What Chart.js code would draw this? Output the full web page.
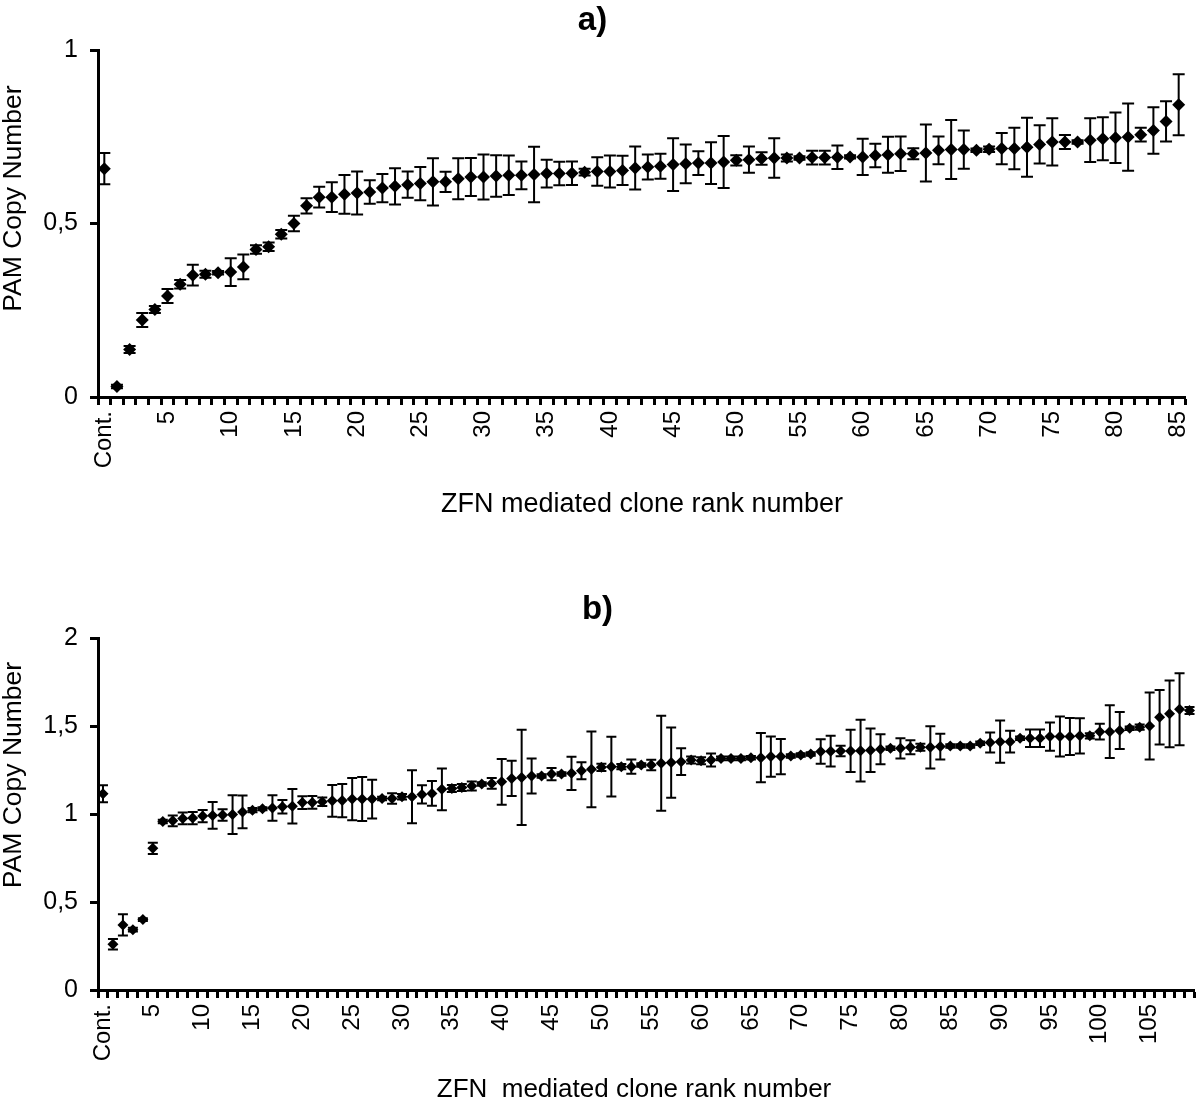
<!DOCTYPE html>
<html><head><meta charset="utf-8">
<script src="https://cdn.jsdelivr.net/npm/chart.js@4.4.1/dist/chart.umd.min.js"></script>
<style>html,body{margin:0;padding:0;background:#fff;overflow:hidden}canvas{display:block;position:absolute;left:0}</style>
</head><body>
<canvas id="ca" width="1200" height="555" style="top:0;width:1200px;height:555px"></canvas>
<canvas id="cb" width="1200" height="554" style="top:555px;width:1200px;height:554px"></canvas>
<script>
// ---------- Panel a data ----------
const categoriesA = ['Cont.','1','2','3','4','5','6','7','8','9','10','11','12','13','14','15','16','17','18','19','20','21','22','23','24','25','26','27','28','29','30','31','32','33','34','35','36','37','38','39','40','41','42','43','44','45','46','47','48','49','50','51','52','53','54','55','56','57','58','59','60','61','62','63','64','65','66','67','68','69','70','71','72','73','74','75','76','77','78','79','80','81','82','83','84','85'];
const valuesA = [0.658,0.030,0.137,0.222,0.252,0.291,0.325,0.351,0.354,0.358,
  0.360,0.375,0.425,0.433,0.469,0.500,0.551,0.576,0.576,0.584,
  0.588,0.591,0.602,0.607,0.612,0.615,0.620,0.620,0.629,0.634,
  0.634,0.637,0.639,0.639,0.641,0.644,0.644,0.645,0.648,0.650,
  0.650,0.653,0.660,0.663,0.665,0.670,0.672,0.674,0.674,0.677,
  0.682,0.684,0.687,0.689,0.689,0.689,0.690,0.690,0.691,0.692,
  0.692,0.696,0.698,0.701,0.701,0.703,0.711,0.713,0.713,0.711,
  0.714,0.716,0.716,0.720,0.728,0.735,0.735,0.735,0.740,0.744,
  0.747,0.749,0.756,0.768,0.794,0.842];
const errorsA = [0.045,0.005,0.010,0.020,0.010,0.020,0.012,0.030,0.010,0.005,
  0.040,0.036,0.012,0.012,0.012,0.022,0.022,0.030,0.043,0.056,
  0.062,0.034,0.041,0.052,0.038,0.048,0.068,0.029,0.059,0.055,
  0.065,0.060,0.057,0.040,0.080,0.040,0.034,0.034,0.010,0.041,
  0.046,0.042,0.062,0.036,0.036,0.076,0.056,0.034,0.060,0.075,
  0.015,0.038,0.018,0.057,0.010,0.005,0.020,0.020,0.034,0.005,
  0.052,0.034,0.052,0.050,0.016,0.082,0.040,0.085,0.055,0.005,
  0.008,0.045,0.060,0.085,0.055,0.068,0.020,0.005,0.063,0.062,
  0.073,0.097,0.020,0.067,0.058,0.088];
const tickLabelsA = ['Cont.','5','10','15','20','25','30','35','40','45','50','55','60','65','70','75','80','85'];
const yTicksA = [0, 0.5, 1];

// ---------- Panel b data ----------
const categoriesB = ['Cont.','1','2','3','4','5','6','7','8','9','10','11','12','13','14','15','16','17','18','19','20','21','22','23','24','25','26','27','28','29','30','31','32','33','34','35','36','37','38','39','40','41','42','43','44','45','46','47','48','49','50','51','52','53','54','55','56','57','58','59','60','61','62','63','64','65','66','67','68','69','70','71','72','73','74','75','76','77','78','79','80','81','82','83','84','85','86','87','88','89','90','91','92','93','94','95','96','97','98','99','100','101','102','103','104','105','106','107','108','109'];
const valuesB = [1.115,0.260,0.370,0.343,0.400,0.805,0.958,0.961,0.975,0.977,
  0.988,0.992,0.994,0.997,1.012,1.022,1.030,1.034,1.041,1.044,
  1.065,1.066,1.070,1.075,1.076,1.085,1.085,1.085,1.088,1.088,
  1.098,1.098,1.111,1.117,1.140,1.145,1.150,1.159,1.170,1.174,
  1.183,1.202,1.208,1.216,1.216,1.227,1.227,1.231,1.246,1.254,
  1.265,1.269,1.269,1.269,1.278,1.278,1.288,1.292,1.297,1.307,
  1.303,1.307,1.316,1.316,1.316,1.320,1.320,1.326,1.326,1.330,
  1.335,1.341,1.355,1.357,1.358,1.358,1.360,1.362,1.368,1.373,
  1.373,1.379,1.379,1.379,1.383,1.387,1.387,1.387,1.402,1.406,
  1.411,1.411,1.430,1.430,1.430,1.440,1.440,1.440,1.444,1.444,
  1.468,1.468,1.474,1.487,1.493,1.500,1.550,1.569,1.595,1.588];
const errorsB = [0.048,0.030,0.060,0.010,0.008,0.032,0.010,0.030,0.033,0.035,
  0.035,0.076,0.033,0.110,0.093,0.012,0.008,0.073,0.038,0.098,
  0.036,0.036,0.024,0.090,0.095,0.120,0.125,0.110,0.010,0.030,
  0.015,0.150,0.052,0.070,0.118,0.020,0.020,0.025,0.010,0.030,
  0.130,0.100,0.270,0.100,0.010,0.035,0.010,0.094,0.048,0.215,
  0.020,0.170,0.015,0.040,0.010,0.030,0.270,0.200,0.076,0.020,
  0.020,0.037,0.010,0.010,0.010,0.010,0.140,0.114,0.100,0.010,
  0.010,0.010,0.070,0.087,0.030,0.120,0.176,0.124,0.085,0.010,
  0.057,0.040,0.020,0.120,0.073,0.010,0.010,0.010,0.010,0.057,
  0.120,0.062,0.010,0.050,0.050,0.080,0.114,0.105,0.100,0.015,
  0.045,0.150,0.105,0.010,0.015,0.190,0.155,0.190,0.205,0.020];
const tickLabelsB = ['Cont.','5','10','15','20','25','30','35','40','45','50','55','60','65','70','75','80','85','90','95','100','105'];
const yTicksB = [0, 0.5, 1, 1.5, 2];

const FONT = 'Arial, "Liberation Sans", Helvetica, sans-serif';

const errorBarPlugin = {
  id: 'errorBars',
  beforeDatasetsDraw(chart, args, opts) {
    const ctx = chart.ctx, xs = chart.scales.x, ys = chart.scales.y;
    const vals = chart.data.datasets[0].data;
    const errs = opts.errors;
    ctx.save();
    ctx.strokeStyle = '#000';
    ctx.lineWidth = opts.lineWidth;
    vals.forEach((v, i) => {
      const px = xs.getPixelForValue(i);
      const t = ys.getPixelForValue(v + errs[i]);
      const b = ys.getPixelForValue(v - errs[i]);
      const h = opts.cap / 2;
      ctx.beginPath();
      ctx.moveTo(px, t); ctx.lineTo(px, b);
      ctx.moveTo(px - h, t); ctx.lineTo(px + h, t);
      ctx.moveTo(px - h, b); ctx.lineTo(px + h, b);
      ctx.stroke();
    });
    ctx.restore();
  }
};

// Axis titles, placed as in the original figure
const axisTitlePlugin = {
  id: 'axisTitles',
  afterDraw(chart, args, opts) {
    const ctx = chart.ctx, a = chart.chartArea;
    ctx.save();
    ctx.fillStyle = '#000';
    ctx.textAlign = 'center';
    ctx.textBaseline = 'middle';
    // y title
    ctx.font = '26.5px ' + FONT;
    ctx.save();
    ctx.translate(opts.yX, (a.top + a.bottom) / 2 - opts.yShift);
    ctx.rotate(-Math.PI / 2);
    ctx.fillText(opts.yText, 0, 0);
    ctx.restore();
    // x title
    ctx.font = opts.xSize + 'px ' + FONT;
    ctx.fillText(opts.xText, opts.xCx, opts.xCy);
    ctx.restore();
  }
};

function makeChart(id, cfg) {
  return new Chart(document.getElementById(id), {
    type: 'line',
    data: { labels: cfg.cats, datasets: [{
      data: cfg.vals, showLine: false, pointStyle: 'rectRot',
      pointRadius: cfg.radius, pointBackgroundColor: '#000', pointBorderColor: '#000', pointBorderWidth: 0
    }]},
    plugins: [errorBarPlugin, axisTitlePlugin],
    options: {
      responsive: false, animation: false, events: [],
      layout: { padding: { left: 0, right: cfg.padRight, top: 0, bottom: 0 } },
      plugins: {
        legend: { display: false }, tooltip: { enabled: false },
        title: { display: true, text: cfg.title, color: '#000',
          font: { family: FONT, size: 33, weight: 'bold' }, padding: cfg.titlePad },
        errorBars: { errors: cfg.errs, cap: cfg.cap, lineWidth: cfg.errWidth },
        axisTitles: { yText: 'PAM Copy Number', yX: 14, yShift: cfg.yTitleShift,
          xText: cfg.xTitle, xCx: cfg.xTitleX, xCy: cfg.xTitleY, xSize: cfg.xTitleSize }
      },
      scales: {
        x: {
          type: 'category', offset: true,
          grid: { offset: true, drawOnChartArea: false, drawTicks: true, tickLength: 8, tickWidth: 3, tickColor: '#000' },
          border: { display: true, width: 3, color: '#000' },
          ticks: { autoSkip: false, maxRotation: 90, minRotation: 90, padding: 6, color: '#000',
            font: { family: FONT, size: 24 },
            callback(val) { const l = this.getLabelForValue(val); return cfg.tickLabels.includes(l) ? l : ''; } },
          title: { display: false },
          afterFit(s) { s.height = cfg.xHeight; s.paddingLeft = 0; s.paddingRight = 0; }
        },
        y: {
          min: cfg.yTicks[0], max: cfg.yTicks[cfg.yTicks.length - 1],
          afterBuildTicks(s) { s.ticks = cfg.yTicks.map(v => ({ value: v })); },
          grid: { drawOnChartArea: false, tickLength: 8, tickWidth: 3, tickColor: '#000' },
          border: { display: true, width: 3, color: '#000' },
          ticks: { padding: 12, color: '#000', font: { family: FONT, size: 25 },
            callback: v => String(v).replace('.', ',') },
          title: { display: false },
          afterFit(s) { s.width = 98; s.paddingTop = 0; s.paddingBottom = 0; }
        }
      }
    }
  });
}

makeChart('ca', { cats: categoriesA, vals: valuesA, errs: errorsA, tickLabels: tickLabelsA, yTicks: yTicksA,
  title: 'a)', titlePad: { top: 1, bottom: 9.4 }, xTitle: 'ZFN mediated clone rank number',
  xTitleX: 642, xTitleY: 505, xTitleSize: 27,
  xHeight: 158, padRight: 15, radius: 6.5, cap: 12, errWidth: 2, yTitleShift: 25 });

makeChart('cb', { cats: categoriesB, vals: valuesB, errs: errorsB, tickLabels: tickLabelsB, yTicks: yTicksB,
  title: 'b)', titlePad: { top: 35, bottom: 8.4 }, xTitle: 'ZFN  mediated clone rank number',
  xTitleX: 634, xTitleY: 535, xTitleSize: 26,
  xHeight: 119, padRight: 5, radius: 5.5, cap: 10, errWidth: 2, yTitleShift: 39 });
</script>
</body></html>
